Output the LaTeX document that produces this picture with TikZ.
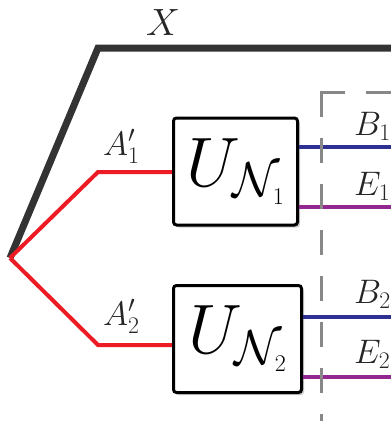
\RequirePackage{fix-cm}
\documentclass[tikz,border=0pt]{standalone}
\usepackage{xcolor}
\definecolor{wirered}{HTML}{ED1C24}
\definecolor{wireblue}{HTML}{2E3192}
\definecolor{wirepurple}{HTML}{92278F}
\definecolor{wirex}{HTML}{333333}
\definecolor{cutgray}{HTML}{888888}
\usepackage{amsmath,amssymb}
\usepackage{tikz}
\usetikzlibrary{shadows}
\newcommand{\chansub}[1]{\mbox{\fontsize{24}{24}\selectfont #1}}

\begin{document}
\begin{tikzpicture}[
  x=1pt, y=-1pt,
  chan/.style={draw=black, line width=3pt, fill=white, rounded corners=3pt,
    minimum width=124pt, minimum height=107pt, inner sep=0pt,
    drop shadow={shadow xshift=2.5pt, shadow yshift=-2.5pt, opacity=0.4}},
  lbl/.style={anchor=base west, inner sep=0pt, text=black!85,
    font=\fontsize{34}{36}\selectfont},
  wire/.style={line width=4pt, line join=miter},
  cut/.style={cutgray, line width=3pt, dash pattern=on 25pt off 21pt}
]
\useasboundingbox (0,0) rectangle (391,421);
% channel boxes
\node[chan] (U1) at (235.5,171.5) {\fontsize{70}{70}\selectfont $U_{\mathcal{N}_{\chansub{1}}}$};
\node[chan, minimum width=128pt] (U2) at (237.5,339) {\fontsize{70}{70}\selectfont $U_{\mathcal{N}_{\chansub{2}}}$};
% corners and free ends
\coordinate (src) at (10,258);
\coordinate (xbend) at (98,48);
\coordinate (xend) at (391,48);
\coordinate (a1bend) at (98,172);
\coordinate (a2bend) at (98,345);
\coordinate (b1) at (391,147);
\coordinate (e1) at (391,207);
\coordinate (b2) at (391,317);
\coordinate (e2) at (391,377);
\coordinate (cutlow) at (321,421);
\coordinate (cuttop) at (321,92);
\coordinate (cutend) at (391,92);
% wires
\draw[wire, wirex, line width=7pt] (src) -- (xbend) -- (xend);
\draw[wire, wirered] (src) -- (a1bend) -- (U1.west |- a1bend);
\draw[wire, wirered] (src) -- (a2bend) -- (U2.west |- a2bend);
\draw[wire, wireblue] (U1.east |- b1) -- (b1);
\draw[wire, wirepurple] (U1.east |- e1) -- (e1);
\draw[wire, wireblue] (U2.east |- b2) -- (b2);
\draw[wire, wirepurple] (U2.east |- e2) -- (e2);
% cut, dashed from its corner
\draw[cut] ([xshift=-1.5pt]cuttop) -- (cutend);
\draw[cut] (cuttop) -- (cutlow);
% labels
\node[lbl, font=\fontsize{38}{40}\selectfont] (xlbl) at (146,35) {$X$};
\node[lbl] (a1lbl) at (103,155) {$A'_1$};
\node[lbl] (a2lbl) at (103,325) {$A'_2$};
\node[lbl] (b1lbl) at (354,135) {$B_1$};
\node[lbl] (e1lbl) at (354,195) {$E_1$};
\node[lbl] (b2lbl) at (354,303) {$B_2$};
\node[lbl] (e2lbl) at (354,363) {$E_2$};
\end{tikzpicture}
\end{document}
